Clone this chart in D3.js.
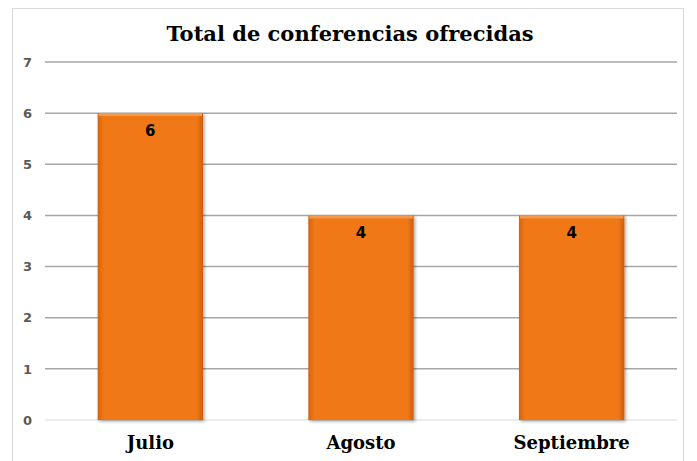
<!DOCTYPE html>
<html><head><meta charset="utf-8">
<script src="https://cdn.jsdelivr.net/npm/d3@7"></script>
<style>html,body{margin:0;padding:0;background:#fff;overflow:hidden;}</style>
</head><body>
<script>
const categories = ["Julio", "Agosto", "Septiembre"];
const values = [6, 4, 4];
const yTicks = [0, 1, 2, 3, 4, 5, 6, 7];
const title = "Total de conferencias ofrecidas";

(function(){
const W = 697, H = 461;
const svg = d3.select("body").append("svg").attr("width", W).attr("height", H).style("display","block");
svg.append("rect").attr("x", 12.5).attr("y", 8.5).attr("width", 671).attr("height", 460)
  .attr("fill", "#fff").attr("stroke", "#d9d9d9").attr("stroke-width", 1);

const defs = svg.append("defs");
const gH = defs.append("linearGradient").attr("id", "gh").attr("x1", 0).attr("x2", 1).attr("y1", 0).attr("y2", 0);
gH.append("stop").attr("offset", "0%").attr("stop-color", "#d8620c");
gH.append("stop").attr("offset", "6%").attr("stop-color", "#f07818");
gH.append("stop").attr("offset", "94%").attr("stop-color", "#f07818");
gH.append("stop").attr("offset", "100%").attr("stop-color", "#cf5d0c");
const f = defs.append("filter").attr("id", "sh").attr("x", "-10%").attr("y", "-10%").attr("width", "130%").attr("height", "130%");
f.append("feDropShadow").attr("dx", 1.5).attr("dy", 1.5).attr("stdDeviation", 1.5).attr("flood-color", "#000").attr("flood-opacity", 0.35);

const mLeft = 45, mRight = 677, mTop = 62, mBottom = 420;
const x = d3.scaleBand().domain(categories).range([mLeft, mRight]).paddingInner(0.5).paddingOuter(0.25);
const y = d3.scaleLinear().domain([0, 7]).range([mBottom, mTop]);

svg.append("text").attr("x", 350).attr("y", 41).attr("text-anchor", "middle")
  .attr("font-family", "DejaVu Serif").attr("font-weight", "bold").attr("font-size", 21)
  .attr("fill", "#000").text(title);

const grid = svg.append("g");
grid.selectAll("line").data(yTicks).join("line")
  .attr("x1", mLeft).attr("x2", mRight)
  .attr("y1", d => y(d)).attr("y2", d => y(d))
  .attr("stroke", d => d === 0 ? "#d9d9d9" : "#a6a6a6")
  .attr("stroke-width", d => d === 0 ? 1 : 1.5);

const yAxis = d3.axisLeft(y).tickValues(yTicks).tickSize(0).tickPadding(0).tickFormat(d3.format("d"));
const ya = svg.append("g").attr("transform", `translate(${mLeft},0)`).call(yAxis);
ya.select(".domain").remove();
ya.selectAll("text").attr("font-family", "DejaVu Sans").attr("font-weight", "bold")
  .attr("font-size", 13).attr("fill", "#595959").attr("text-anchor", "start").attr("x", -22);

svg.append("g").selectAll("rect").data(values).join("rect")
  .attr("x", (d, i) => x(categories[i])).attr("width", x.bandwidth())
  .attr("y", d => y(d)).attr("height", d => y(0) - y(d))
  .attr("fill", "url(#gh)").attr("filter", "url(#sh)");
svg.append("g").selectAll("rect").data(values).join("rect")
  .attr("x", (d, i) => x(categories[i]) + 1).attr("width", x.bandwidth() - 2)
  .attr("y", d => y(d)).attr("height", 3)
  .attr("fill", "#f59a4a");

svg.append("g").selectAll("text").data(values).join("text")
  .attr("x", (d, i) => x(categories[i]) + x.bandwidth() / 2)
  .attr("y", d => y(d) + 23).attr("text-anchor", "middle")
  .attr("font-family", "DejaVu Sans").attr("font-weight", "bold").attr("font-size", 15)
  .attr("fill", "#000").text(d => d);

const xAxis = d3.axisBottom(x).tickSize(0).tickPadding(0);
const xa = svg.append("g").attr("transform", `translate(0,${mBottom})`).call(xAxis);
xa.select(".domain").remove();
xa.selectAll("text").attr("font-family", "DejaVu Serif").attr("font-weight", "bold")
  .attr("font-size", 18).attr("fill", "#000").attr("dy", 0).attr("y", 29);
})();
</script>
</body></html>
